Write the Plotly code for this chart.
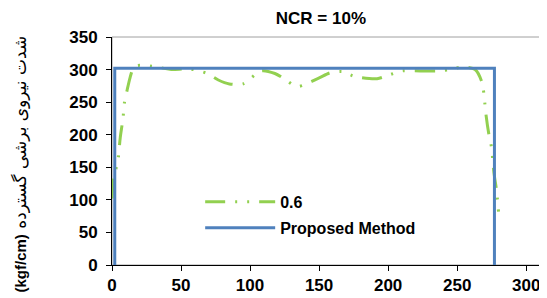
import plotly.graph_objects as go

# ---- data ----
green_name = "0.6"
green_x = [0, 1.5, 4, 6, 8, 9, 11, 13, 15, 18, 25, 35, 43, 56, 69, 77, 85, 95, 108,
           118, 126, 134, 149, 158, 167, 175, 192, 201, 210, 219, 236, 245, 254, 263,
           268, 270, 271, 273, 275, 276, 277, 278.5, 280]
green_y = [102, 138, 156, 196, 226, 249, 269, 287, 300, 306, 306, 303, 300, 301, 294,
           284, 278, 278, 298, 294, 284, 274, 286, 295, 297, 290, 286, 292, 298, 298,
           298, 300, 304, 300, 280, 249, 229, 200, 179, 154, 136, 115, 81]

blue_name = "Proposed Method"
blue_x = [2, 2, 277, 277]
blue_y = [0, 302, 302, 0]

title_text = "NCR = 10%"
y_title_unit = "(kgf/cm)"
y_title_fa = "شدت نیروی برشی گسترده"
x_ticks = [0, 50, 100, 150, 200, 250, 300]
y_ticks = [0, 50, 100, 150, 200, 250, 300, 350]

fig = go.Figure()
fig.add_trace(go.Scatter(
    x=green_x, y=green_y, mode="lines", name="<b>" + green_name + "</b>",
    line=dict(color="#92D050", width=3, shape="spline", smoothing=0.8,
              dash="20px,10px,2px,10px,2px,10px"),
    legendgroup="g1"))
fig.add_trace(go.Scatter(
    x=blue_x, y=blue_y, mode="lines", name="<b>" + blue_name + "</b>",
    line=dict(color="#4F81BD", width=3), legendgroup="g2"))

font_family = "Liberation Sans, Arial, sans-serif"
axis_common = dict(showline=True, linecolor="black", linewidth=1, ticks="outside",
                   ticklen=5, tickcolor="black", showgrid=False, zeroline=False,
                   tickfont=dict(size=17))
fig.update_layout(
    width=547, height=298,
    margin=dict(l=104, r=15, t=29, b=41),
    paper_bgcolor="white", plot_bgcolor="white",
    font=dict(family=font_family, size=16, color="black"),
    title=dict(text="<b>" + title_text + "</b>", x=0.572, xanchor="center",
               y=0.966, yanchor="middle", font=dict(size=17)),
    xaxis=dict(range=[0, 310], tickvals=x_ticks,
               ticktext=["<b>%d</b>" % v for v in x_ticks], **axis_common),
    yaxis=dict(range=[0, 350], tickvals=y_ticks,
               ticktext=["<b>%d</b>" % v for v in y_ticks], ticklabelstandoff=5,
               **axis_common),
    legend=dict(x=0.206, y=0.351, xanchor="left", yanchor="top",
                bgcolor="rgba(0,0,0,0)", itemwidth=70, tracegroupgap=2,
                traceorder="grouped", font=dict(size=16)),
    showlegend=True,
)

fig.add_shape(type="rect", xref="paper", yref="paper", x0=0, y0=0, x1=1, y1=1,
              line=dict(color="#A0A0A0", width=1), layer="below")

fig.add_annotation(
    text="<span style='font-family:Liberation Sans, Arial;font-weight:bold;font-size:15px'>"
         + y_title_unit + "</span> " + y_title_fa,
    xref="paper", yref="paper", x=-0.215, y=0.445,
    textangle=-90, showarrow=False, xanchor="center", yanchor="middle",
    font=dict(size=17, family="DejaVu Sans, sans-serif"))

fig.write_html("out.html")
